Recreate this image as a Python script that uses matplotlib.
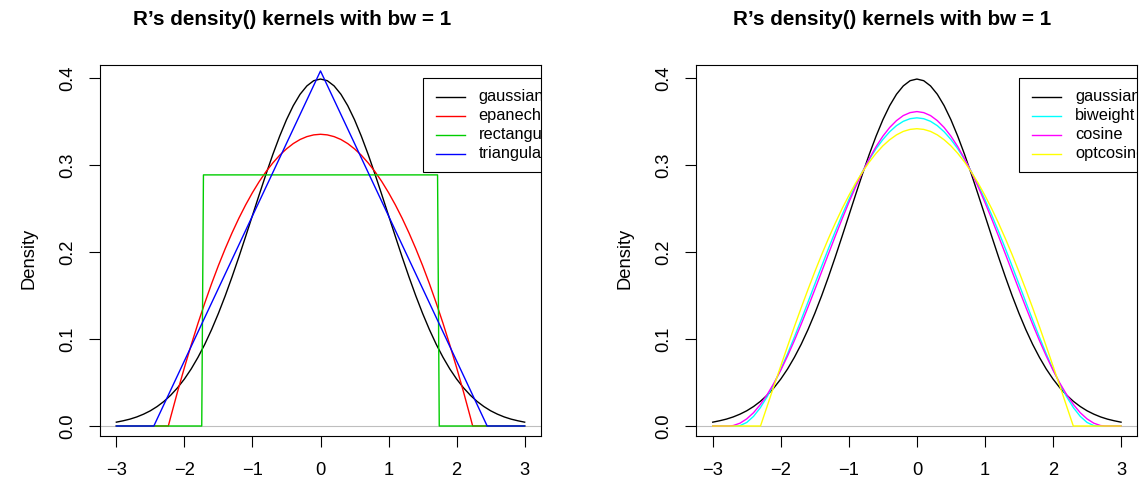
"""R's density() kernels with bw = 1 -- two panels, recreated with matplotlib."""

import matplotlib

matplotlib.use("Agg")
import matplotlib.pyplot as plt
import numpy as np
from matplotlib.lines import Line2D
from matplotlib.patches import Rectangle
from matplotlib.transforms import Affine2D, ScaledTranslation

plt.rcParams["font.family"] = ["Liberation Sans", "DejaVu Sans"]

TITLE = "R\u2019s density() kernels with bw = 1"
x_ticks = [-3, -2, -1, 0, 1, 2, 3]
y_ticks = [0.0, 0.1, 0.2, 0.3, 0.4]

# gaussian, sampled every 0.1 from -3 to 3
gauss_x = np.linspace(-3, 3, 61)
gauss_y = [0.0044, 0.0060, 0.0079, 0.0104, 0.0136, 0.0175, 0.0224, 0.0283, 0.0355, 0.0440,
           0.0540, 0.0656, 0.0790, 0.0940, 0.1109, 0.1295, 0.1497, 0.1714, 0.1942, 0.2179,
           0.2420, 0.2661, 0.2897, 0.3123, 0.3332, 0.3521, 0.3683, 0.3814, 0.3910, 0.3970,
           0.3989,
           0.3970, 0.3910, 0.3814, 0.3683, 0.3521, 0.3332, 0.3123, 0.2897, 0.2661, 0.2420,
           0.2179, 0.1942, 0.1714, 0.1497, 0.1295, 0.1109, 0.0940, 0.0790, 0.0656, 0.0540,
           0.0440, 0.0355, 0.0283, 0.0224, 0.0175, 0.0136, 0.0104, 0.0079, 0.0060, 0.0044]

# epanechnikov: zero outside +-2.236
epan_x = [-3.0, -2.236, *np.linspace(-2.2, 2.2, 45), 2.236, 3.0]
epan_y = [0, 0,
          0.0107, 0.0396, 0.0671, 0.0932, 0.1181, 0.1415, 0.1637, 0.1845, 0.2039, 0.2220,
          0.2388, 0.2542, 0.2683, 0.2811, 0.2925, 0.3025, 0.3113, 0.3186, 0.3247, 0.3294,
          0.3327, 0.3347,
          0.3354,
          0.3347, 0.3327,
          0.3294, 0.3247, 0.3186, 0.3113, 0.3025, 0.2925, 0.2811, 0.2683, 0.2542, 0.2388,
          0.2220, 0.2039, 0.1845, 0.1637, 0.1415, 0.1181, 0.0932, 0.0671, 0.0396, 0.0107,
          0, 0]

# rectangular
rect_x = [-3.0, -1.745, -1.72, 1.72, 1.745, 3.0]
rect_y = [0, 0, 0.2887, 0.2887, 0, 0]

# triangular
tri_x = [-3.0, -2.449, 0.0, 2.449, 3.0]
tri_y = [0, 0, 0.4082, 0, 0]

# biweight: zero outside +-2.646
biw_x = [-3.0, -2.646, *np.linspace(-2.6, 2.6, 53), 2.646, 3.0]
biw_y = [0, 0,
         0.0004, 0.0041, 0.0111, 0.0211, 0.0337, 0.0485, 0.0651, 0.0831, 0.1022, 0.1221,
         0.1425, 0.1631, 0.1837, 0.2039, 0.2235, 0.2424, 0.2603, 0.2771, 0.2925, 0.3064,
         0.3188, 0.3294, 0.3383, 0.3453, 0.3503, 0.3533,
         0.3543,
         0.3533, 0.3503, 0.3453, 0.3383, 0.3294, 0.3188,
         0.3064, 0.2925, 0.2771, 0.2603, 0.2424, 0.2235, 0.2039, 0.1837, 0.1631, 0.1425,
         0.1221, 0.1022, 0.0831, 0.0651, 0.0485, 0.0337, 0.0211, 0.0111, 0.0041, 0.0004,
         0, 0]

# cosine: zero outside +-2.766
cos_x = [-3.0, -2.766, *np.linspace(-2.7, 2.7, 55), 2.766, 3.0]
cos_y = [0, 0,
         0.0005, 0.0032, 0.0082, 0.0153, 0.0247, 0.0361, 0.0493, 0.0642, 0.0806, 0.0983,
         0.1171, 0.1367, 0.1568, 0.1773, 0.1978, 0.2181, 0.2379, 0.2570, 0.2750, 0.2919,
         0.3073, 0.3212, 0.3332, 0.3432, 0.3511, 0.3569, 0.3603,
         0.3615,
         0.3603, 0.3569, 0.3511, 0.3432, 0.3332, 0.3212, 0.3073,
         0.2919, 0.2750, 0.2570, 0.2379, 0.2181, 0.1978, 0.1773, 0.1568, 0.1367, 0.1171,
         0.0983, 0.0806, 0.0642, 0.0493, 0.0361, 0.0247, 0.0153, 0.0082, 0.0032, 0.0005,
         0, 0]

# optcosine: zero outside +-2.298
optc_x = [-3.0, -2.298, *np.linspace(-2.2, 2.2, 45), 2.298, 3.0]
optc_y = [0, 0,
          0.0228, 0.0461, 0.0690, 0.0918, 0.1143, 0.1360, 0.1570, 0.1774, 0.1969, 0.2155,
          0.2331, 0.2497, 0.2650, 0.2792, 0.2920, 0.3035, 0.3135, 0.3221, 0.3291, 0.3347,
          0.3387, 0.3410,
          0.3418,
          0.3410, 0.3387,
          0.3347, 0.3291, 0.3221, 0.3135, 0.3035, 0.2920, 0.2792, 0.2650, 0.2497, 0.2331,
          0.2155, 0.1969, 0.1774, 0.1570, 0.1360, 0.1143, 0.0918, 0.0690, 0.0461, 0.0228,
          0, 0]

left_names = ["gaussian", "epanechnikov", "rectangular", "triangular"]
left_colors = ["black", "#FF0000", "#00CD00", "#0000FF"]
left_curves = [(gauss_x, gauss_y), (epan_x, epan_y), (rect_x, rect_y), (tri_x, tri_y)]

right_names = ["gaussian", "biweight", "cosine", "optcosine"]
right_colors = ["black", "#00FFFF", "#FF00FF", "#FFFF00"]
right_curves = [(gauss_x, gauss_y), (biw_x, biw_y), (cos_x, cos_y), (optc_x, optc_y)]

FS_TICK = 13.2
FS_TITLE = 14.9
FS_LEG = 11.8


def draw_legend(ax, names, colors, anchor=(1.5, 0.4)):
    # offsets in pixels from the data anchor, y pointing down (like R's legend());
    # the box runs past the axes edge and gets clipped there, as in the original
    trans = Affine2D().scale(1, -1) + ScaledTranslation(anchor[0], anchor[1], ax.transData)
    box = Rectangle((0, 0), 200, 94, transform=trans, fill=False, ec="black", lw=0.8)
    ax.add_patch(box)
    for i, (name, col) in enumerate(zip(names, colors)):
        y = 18.5 + 19 * i
        ln = Line2D([13.5, 42.5], [y, y], transform=trans, color=col, lw=1.0)
        ax.add_artist(ln)
        t = ax.text(56, y, name, transform=trans, ha="left", va="center", fontsize=FS_LEG)
        t.set_clip_on(True)
        t.set_clip_box(ax.bbox)


def panel(fig, rect, names, colors, curves):
    ax = fig.add_axes(rect)
    gx, gy = curves[0]
    ax.plot(gx, gy, color=colors[0], lw=1.0)
    ax.axhline(0, color="#BEBEBE", lw=0.8)
    for (cx, cy), col in zip(curves[1:], colors[1:]):
        ax.plot(cx, cy, color=col, lw=1.0)

    ax.set_xticks(x_ticks, labels=[str(v).replace("-", "\u2212") for v in x_ticks])
    ax.set_yticks(y_ticks, labels=[f"{v:.1f}" for v in y_ticks])
    ax.tick_params(direction="out", length=7.9, width=0.8, labelsize=FS_TICK, color="black")
    ax.tick_params(axis="x", pad=10.5)
    ax.tick_params(axis="y", pad=9.5, labelrotation=90)
    for lab in ax.get_yticklabels():
        lab.set_va("center")
    for sp in ax.spines.values():
        sp.set_linewidth(0.8)

    ax.set_ylabel("Density", fontsize=FS_TICK)
    ax.yaxis.label.set_va("center")
    ax.yaxis.set_label_coords(-71 / 441, (436 - 258) / (436 - 65.3))

    draw_legend(ax, names, colors)
    ax.set_xlim(-3.24, 3.24)
    ax.set_ylim(-0.0115, 0.4147)
    return ax


def main() -> None:
    W, H = 1141, 484
    fig = plt.figure(figsize=(W / 100, H / 100), dpi=100)
    bottom = (H - 436) / H
    height = (436 - 65.3) / H
    width = 441 / W
    panel(fig, [100 / W, bottom, width, height], left_names, left_colors, left_curves)
    panel(fig, [696.4 / W, bottom, width, height], right_names, right_colors, right_curves)

    for cx in (292.5, 892):
        fig.text(cx / W, 1 - 25 / H, TITLE, ha="center", va="baseline",
                 fontsize=FS_TITLE, fontweight="bold")

    fig.savefig("out.png", dpi=100)
    plt.close(fig)


if __name__ == "__main__":
    main()
